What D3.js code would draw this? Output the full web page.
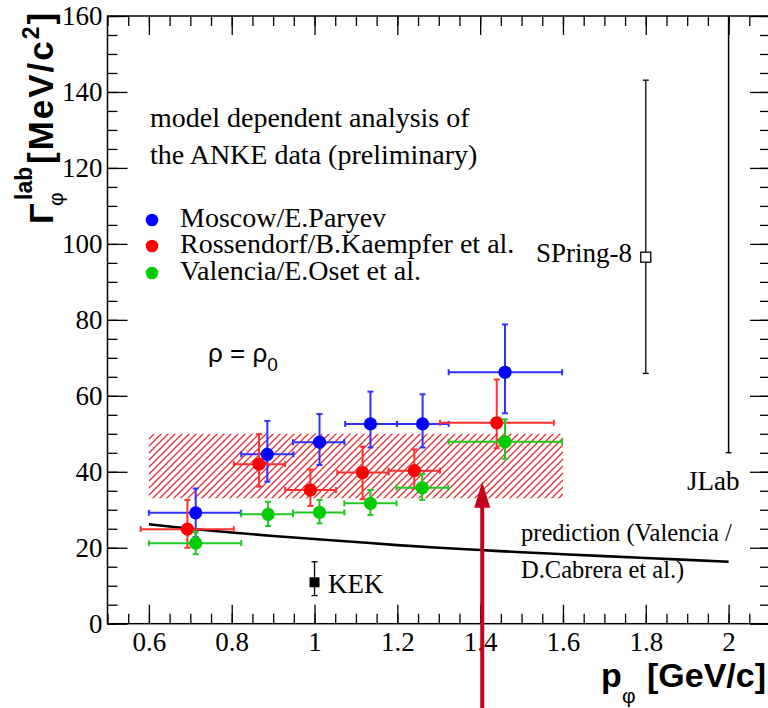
<!DOCTYPE html>
<html>
<head>
<meta charset="utf-8">
<script src="https://cdn.jsdelivr.net/npm/d3@7"></script>
<style>
  html, body { margin: 0; padding: 0; background: #fff; }
  svg { display: block; }
  .serif { font-family: "Liberation Serif", "Times New Roman", serif; }
  .sans { font-family: "Liberation Sans", Arial, sans-serif; }
</style>
</head>
<body>
<svg id="chart" width="768" height="708"></svg>
<script>
// ---- ANKE phi width results: three model analyses ----
const moscowP    = [0.713, 0.886, 1.012, 1.135, 1.261, 1.460];
const moscowW    = [29.2, 44.6, 47.8, 52.6, 52.6, 66.2];
const moscowPlo  = [0.600, 0.823, 0.948, 1.074, 1.199, 1.324];
const moscowPhi  = [0.822, 0.949, 1.072, 1.199, 1.324, 1.598];
const moscowWlo  = [22.8, 37.4, 41.8, 46.4, 46.4, 55.4];
const moscowWhi  = [35.6, 53.4, 55.2, 61.1, 60.4, 78.8];

const rossP      = [0.693, 0.866, 0.990, 1.116, 1.241, 1.440];
const rossW      = [24.9, 42.0, 35.2, 39.8, 40.3, 52.9];
const rossPlo    = [0.580, 0.805, 0.929, 1.055, 1.179, 1.303];
const rossPhi    = [0.805, 0.929, 1.052, 1.179, 1.303, 1.578];
const rossWlo    = [20.0, 36.1, 31.0, 32.8, 35.6, 46.2];
const rossWhi    = [32.6, 49.9, 40.6, 46.6, 45.9, 64.3];

const valP       = [0.713, 0.888, 1.012, 1.135, 1.260, 1.460];
const valW       = [21.2, 28.8, 29.3, 31.7, 35.8, 47.9];
const valPlo     = [0.600, 0.823, 0.948, 1.072, 1.198, 1.324];
const valPhi     = [0.823, 0.948, 1.072, 1.198, 1.323, 1.598];
const valWlo     = [18.3, 25.7, 26.4, 28.6, 32.6, 43.4];
const valWhi     = [24.1, 32.1, 32.6, 35.2, 39.4, 53.8];

// Band summarising the analyses
const bandP = [0.6, 1.6];
const bandW = [33.0, 50.0];

// Valencia / D.Cabrera prediction
const predP = [0.6, 0.7, 0.8, 0.9, 1.0, 1.1, 1.2, 1.3, 1.4, 1.5, 1.6, 1.7, 1.8, 1.9, 2.0];
const predW = [26.2, 25.0, 24.0, 23.1, 22.3, 21.5, 20.7, 20.0, 19.4, 18.8, 18.3, 17.8, 17.3, 16.8, 16.3];

// Other experiments
const kekP = 1.0,   kekW = 10.9,  kekLo = 7.4,  kekHi = 16.3;
const spP  = 1.8,   spW  = 96.5,  spLo  = 65.9, spHi  = 143.1;
const jlabP = 2.0,  jlabLo = 45.0, jlabHi = 160;

// Arrow marking the mean momentum
const arrowP = 1.405, arrowTipW = 37.4, arrowBaseW = -25;

// Axes
const xDomain = [0.5, 2.1];
const yDomain = [0, 160];
const xTickVals = [0.6, 0.8, 1.0, 1.2, 1.4, 1.6, 1.8, 2.0];
const xTickLabels = ["0.6", "0.8", "1", "1.2", "1.4", "1.6", "1.8", "2"];
const yTickVals = [0, 20, 40, 60, 80, 100, 120, 140, 160];

const series = [
  { name: "Moscow/E.Paryev", color: "#0000ff", bar: "#3030ff", p: moscowP, w: moscowW, plo: moscowPlo, phi: moscowPhi, wlo: moscowWlo, whi: moscowWhi },
  { name: "Rossendorf/B.Kaempfer et al.", color: "#ff0000", bar: "#ff3030", p: rossP, w: rossW, plo: rossPlo, phi: rossPhi, wlo: rossWlo, whi: rossWhi },
  { name: "Valencia/E.Oset et al.", color: "#00cc00", bar: "#22c822", p: valP, w: valW, plo: valPlo, phi: valPhi, wlo: valWlo, whi: valWhi }
];

const svg = d3.select("#chart");
const L = 107.5, R = 770, T = 16, B = 623.7;
const x = d3.scaleLinear().domain(xDomain).range([L, R]);
const y = d3.scaleLinear().domain(yDomain).range([B, T]);

// ---- hatched band ----
const defs = svg.append("defs");
const pat = defs.append("pattern")
  .attr("id", "hatch").attr("patternUnits", "userSpaceOnUse")
  .attr("width", 7).attr("height", 7);
pat.append("path").attr("d", "M-1,1 l2,-2 M0,7 l7,-7 M6,8 l2,-2")
  .attr("stroke", "#e03030").attr("stroke-width", 1.3);
svg.append("rect")
  .attr("x", x(bandP[0])).attr("y", y(bandW[1]))
  .attr("width", x(bandP[1]) - x(bandP[0]))
  .attr("height", y(bandW[0]) - y(bandW[1]))
  .attr("fill", "url(#hatch)");

// ---- axes and frame ----
function axisGroup(axis, transform) {
  const g = svg.append("g").attr("transform", transform).call(axis);
  g.select(".domain").remove();
  g.selectAll(".tick line").attr("stroke", "#000").attr("stroke-width", 1.3);
  g.selectAll("text").attr("class", "serif").attr("font-size", 27).attr("fill", "#000");
  return g;
}
const xMinor = d3.range(0.5, 2.1001, 0.05).map(v => +v.toFixed(2));
const yMinor = d3.range(0, 160.001, 5);

axisGroup(d3.axisBottom(x).tickValues(xMinor).tickSize(-10).tickSizeOuter(0).tickFormat(""), `translate(0,${B})`);
axisGroup(d3.axisBottom(x).tickValues(xTickVals).tickSize(-19).tickSizeOuter(0).tickPadding(8)
  .tickFormat((d, i) => xTickLabels[i]), `translate(0,${B})`);
axisGroup(d3.axisTop(x).tickValues(xMinor).tickSize(-10).tickSizeOuter(0).tickFormat(""), `translate(0,${T})`);
axisGroup(d3.axisTop(x).tickValues(xTickVals).tickSize(-19).tickSizeOuter(0).tickFormat(""), `translate(0,${T})`);
axisGroup(d3.axisLeft(y).tickValues(yMinor).tickSize(-10).tickSizeOuter(0).tickFormat(""), `translate(${L},0)`);
axisGroup(d3.axisLeft(y).tickValues(yTickVals).tickSize(-20).tickSizeOuter(0).tickPadding(5).tickFormat(d3.format("d")), `translate(${L},0)`);
axisGroup(d3.axisRight(y).tickValues(yMinor).tickSize(-10).tickSizeOuter(0).tickFormat(""), `translate(${R},0)`);
axisGroup(d3.axisRight(y).tickValues(yTickVals).tickSize(-20).tickSizeOuter(0).tickFormat(""), `translate(${R},0)`);

svg.append("rect").attr("x", L).attr("y", T).attr("width", R - L).attr("height", B - T)
  .attr("fill", "none").attr("stroke", "#000").attr("stroke-width", 1.5);

// ---- prediction curve ----
svg.append("path")
  .datum(predP.map((p, i) => [p, predW[i]]))
  .attr("d", d3.line().x(d => x(d[0])).y(d => y(d[1])).curve(d3.curveMonotoneX))
  .attr("fill", "none").attr("stroke", "#000").attr("stroke-width", 2.6);

// ---- error bar helper ----
function errBar(g, p, w, plo, phi, wlo, whi, color, width, cap) {
  if (plo !== null) {
    g.append("line").attr("x1", x(plo)).attr("x2", x(phi)).attr("y1", y(w)).attr("y2", y(w))
      .attr("stroke", color).attr("stroke-width", width);
    [plo, phi].forEach(v => g.append("line").attr("x1", x(v)).attr("x2", x(v))
      .attr("y1", y(w) - cap).attr("y2", y(w) + cap).attr("stroke", color).attr("stroke-width", width));
  }
  g.append("line").attr("x1", x(p)).attr("x2", x(p)).attr("y1", y(wlo)).attr("y2", y(whi))
    .attr("stroke", color).attr("stroke-width", width);
  [wlo, whi].forEach(v => g.append("line").attr("x1", x(p) - cap).attr("x2", x(p) + cap)
    .attr("y1", y(v)).attr("y2", y(v)).attr("stroke", color).attr("stroke-width", width));
}

// ---- data series ----
series.forEach(s => {
  const g = svg.append("g");
  s.p.forEach((p, i) => errBar(g, p, s.w[i], s.plo[i], s.phi[i], s.wlo[i], s.whi[i], s.bar, 2, 3));
  g.selectAll("circle").data(s.p).join("circle")
    .attr("cx", d => x(d)).attr("cy", (d, i) => y(s.w[i])).attr("r", 6.6)
    .attr("fill", s.color);
});

// ---- other experiments ----
const ext = svg.append("g");
errBar(ext, kekP, kekW, null, null, kekLo, kekHi, "#000", 1.3, 3);
ext.append("rect").attr("x", x(kekP) - 5).attr("y", y(kekW) - 5).attr("width", 10).attr("height", 10).attr("fill", "#000");
errBar(ext, spP, spW, null, null, spLo, spHi, "#000", 1.3, 3);
ext.append("rect").attr("x", x(spP) - 5).attr("y", y(spW) - 5).attr("width", 10).attr("height", 10)
  .attr("fill", "#fff").attr("stroke", "#000").attr("stroke-width", 1.3);
ext.append("line").attr("x1", x(jlabP)).attr("x2", x(jlabP)).attr("y1", y(jlabLo)).attr("y2", y(jlabHi))
  .attr("stroke", "#000").attr("stroke-width", 1.5);
ext.append("line").attr("x1", x(jlabP) - 3).attr("x2", x(jlabP) + 3).attr("y1", y(jlabLo)).attr("y2", y(jlabLo))
  .attr("stroke", "#000").attr("stroke-width", 1.3);

// ---- text annotations ----
function txt(str, px, py, size, cls, anchor) {
  return svg.append("text").attr("x", px).attr("y", py).attr("font-size", size)
    .attr("class", cls).attr("text-anchor", anchor || "start").attr("fill", "#000").text(str);
}
txt("model dependent analysis of", 150, 127, 28, "serif");
txt("the ANKE data (preliminary)", 150, 164, 28, "serif");

const legY = [227, 253, 280];
series.forEach((s, i) => {
  svg.append("circle").attr("cx", 152).attr("cy", legY[i] - 7).attr("r", 6.3).attr("fill", s.color);
  txt(s.name, 180, legY[i], 28, "serif");
});

const rho = txt("ρ = ρ", 208, 362, 26, "sans");
rho.append("tspan").attr("font-size", 19).attr("dy", 9).text("0");

txt("SPring-8", 632, 262, 27, "serif", "end");
txt("JLab", 687, 490, 27, "serif");
txt("prediction (Valencia /", 521, 541, 24.5, "serif");
txt("D.Cabrera et al.)", 521, 578, 24.5, "serif");
txt("KEK", 328, 593, 27, "serif");

// ---- axis titles ----
const xt = svg.append("g").attr("class", "sans").attr("font-weight", "bold");
xt.append("text").attr("x", 601).attr("y", 687).attr("font-size", 34).text("p");
xt.append("text").attr("x", 622).attr("y", 703).attr("font-size", 21).attr("font-weight", "normal").text("φ");
xt.append("text").attr("x", 766).attr("y", 687).attr("font-size", 34).attr("text-anchor", "end").text("[GeV/c]");

const yt = svg.append("g").attr("class", "sans").attr("font-weight", "bold")
  .attr("transform", "translate(53,224) rotate(-90)");
yt.append("text").attr("x", 0).attr("y", 0).attr("font-size", 34).text("Γ");
yt.append("text").attr("x", 24).attr("y", -21).attr("font-size", 23).text("lab");
yt.append("text").attr("x", 18).attr("y", 10).attr("font-size", 21).attr("font-weight", "normal").text("φ");
const unit = yt.append("text").attr("x", 60).attr("y", 0).attr("font-size", 35).attr("letter-spacing", 2).text("[MeV/c");
unit.append("tspan").attr("font-size", 23).attr("dy", -14).text("2");
unit.append("tspan").attr("dy", 14).text("]");

// ---- arrow ----
const ax = x(arrowP), tip = y(arrowTipW), base = y(arrowBaseW);
svg.append("line").attr("x1", ax).attr("x2", ax).attr("y1", base).attr("y2", tip + 20)
  .attr("stroke", "#c4001c").attr("stroke-width", 4);
svg.append("path").attr("d", `M${ax},${tip} L${ax - 8},${tip + 26} L${ax + 8},${tip + 26} Z`)
  .attr("fill", "#c4001c");
</script>
</body>
</html>
